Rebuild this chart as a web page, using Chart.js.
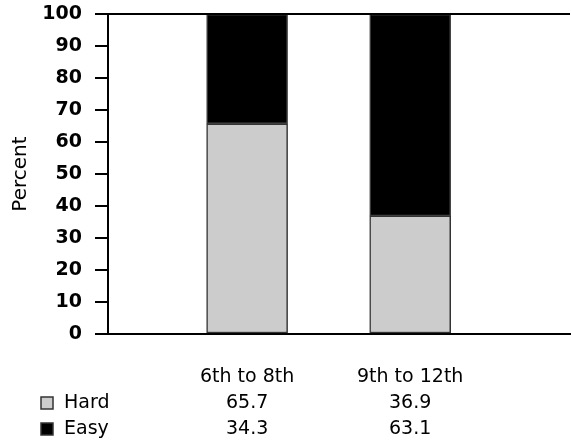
<!DOCTYPE html>
<html>
<head>
<meta charset="utf-8">
<script src="https://cdn.jsdelivr.net/npm/chart.js@4"></script>
<style>
  html, body { margin: 0; padding: 0; background: #fff; }
  #wrap { width: 571px; height: 442px; position: relative; }
</style>
</head>
<body>
<div id="wrap"><canvas id="chart"></canvas></div>
<script>
// --- data ---
const categories = ['6th to 8th', '9th to 12th'];
const seriesNames = ['Hard', 'Easy'];
const hardValues = [65.7, 36.9];
const easyValues = [34.3, 63.1];
const seriesColors = ['#cccccc', '#000000'];

const FONT = '"DejaVu Sans", Verdana, sans-serif';

// draws top frame line plus the data table under the plot
const tablePlugin = {
    id: 'dataTable',
    afterDraw(chart) {
        const ctx = chart.ctx;
        const area = chart.chartArea;
        const x = chart.scales.x;

        ctx.save();
        ctx.strokeStyle = '#000';
        ctx.lineWidth = 2;
        ctx.beginPath();
        ctx.moveTo(area.left, area.top);
        ctx.lineTo(area.right, area.top);
        ctx.stroke();

        ctx.font = '19px ' + FONT;
        ctx.fillStyle = '#000';
        ctx.textBaseline = 'middle';

        // header row
        ctx.textAlign = 'center';
        categories.forEach((c, i) => {
            ctx.fillText(c, x.getPixelForValue(i + 1), 377);
        });

        const rows = [hardValues, easyValues];
        const rowY = [403, 429];
        rows.forEach((vals, r) => {
            // legend swatch
            ctx.fillStyle = seriesColors[r];
            ctx.fillRect(41, rowY[r] - 6, 12, 12);
            ctx.strokeStyle = '#333';
            ctx.lineWidth = 1.5;
            ctx.strokeRect(41, rowY[r] - 6, 12, 12);

            ctx.fillStyle = '#000';
            ctx.textAlign = 'left';
            ctx.fillText(seriesNames[r], 64, rowY[r]);

            ctx.textAlign = 'center';
            vals.forEach((v, i) => {
                ctx.fillText(v.toFixed(1), x.getPixelForValue(i + 1), rowY[r]);
            });
        });
        ctx.restore();
    }
};

const ctx = document.getElementById('chart').getContext('2d');
new Chart(ctx, {
    type: 'bar',
    data: {
        datasets: [
            {
                label: seriesNames[0],
                data: categories.map((c, i) => ({ x: i + 1, y: hardValues[i] })),
                backgroundColor: seriesColors[0],
                borderColor: '#333',
                borderWidth: 1.5,
                borderSkipped: false,
                barThickness: 81
            },
            {
                label: seriesNames[1],
                data: categories.map((c, i) => ({ x: i + 1, y: easyValues[i] })),
                backgroundColor: seriesColors[1],
                borderColor: '#444',
                borderWidth: 1.5,
                borderSkipped: false,
                barThickness: 81
            }
        ]
    },
    options: {
        responsive: true,
        maintainAspectRatio: false,
        animation: false,
        layout: { padding: { top: 14, right: 1, left: 0, bottom: 0 } },
        plugins: {
            legend: { display: false },
            tooltip: { enabled: false }
        },
        scales: {
            x: {
                type: 'linear',
                stacked: true,
                offset: false,
                min: 0.147,
                max: 2.98,
                ticks: { display: false },
                grid: { display: false },
                border: { display: true, color: '#000', width: 2 },
                afterFit: (scale) => { scale.height = 108; }
            },
            y: {
                stacked: true,
                min: 0,
                max: 100,
                ticks: {
                    stepSize: 10,
                    color: '#000',
                    padding: 13,
                    font: { family: FONT, size: 19, weight: 'bold' }
                },
                grid: {
                    drawOnChartArea: false,
                    drawTicks: true,
                    tickLength: 13,
                    color: '#000',
                    lineWidth: 2
                },
                border: { display: true, color: '#000', width: 2 },
                title: {
                    display: true,
                    text: 'Percent',
                    color: '#000',
                    padding: { top: 9, bottom: 4 },
                    font: { family: FONT, size: 20 }
                },
                afterFit: (scale) => {
                    scale.width = 108;
                    scale.paddingTop = 0;
                    scale.paddingBottom = 0;
                }
            }
        }
    },
    plugins: [tablePlugin]
});
</script>
</body>
</html>
